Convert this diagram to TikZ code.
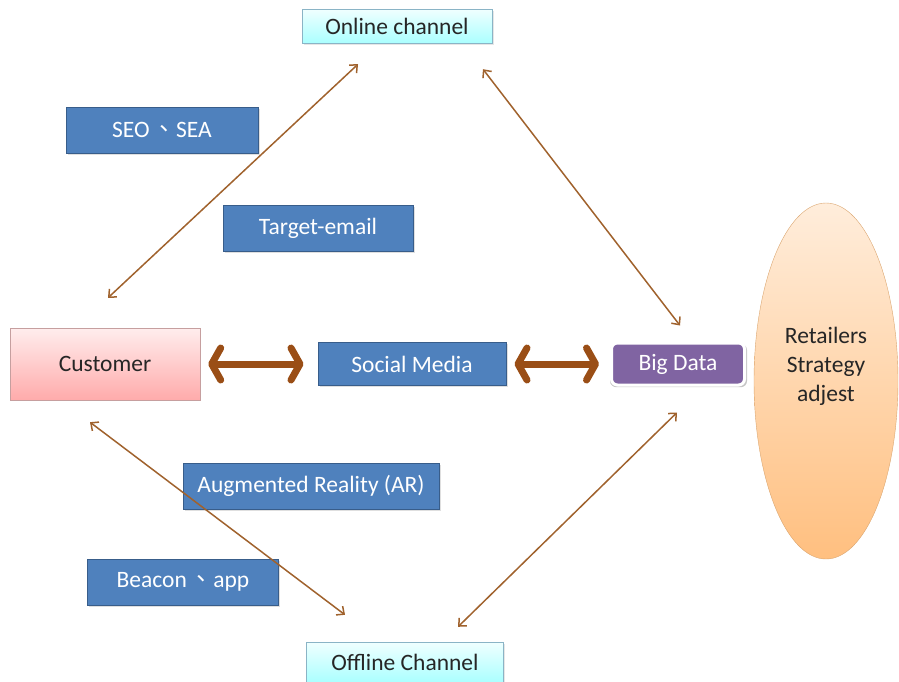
\documentclass[tikz,border=0pt]{standalone}
\usepackage{fontspec}
\setmainfont{Carlito}
\newfontfamily\cjk{Noto Sans CJK TC}
\usetikzlibrary{shapes,arrows.meta,shadows}

\definecolor{boxblue}{HTML}{4F81BD}
\definecolor{boxblueline}{HTML}{385D8A}
\definecolor{bigpurple}{HTML}{8064A2}
\definecolor{arrbrown}{HTML}{9A4E16}
\definecolor{linkbrown}{HTML}{A0622D}

\begin{document}
\begin{tikzpicture}[x=1pt,y=-1pt,
    every node/.style={font=\fontsize{23.5}{29}\selectfont,text=black!85},
    tool/.style={draw=boxblueline,fill=boxblue,text=white,line width=1pt,
      minimum height=46,drop shadow={opacity=0.25,shadow xshift=1.5pt,shadow yshift=-1.5pt}},
    channel/.style={draw=gray!60!cyan!80,top color=cyan!6,bottom color=cyan!33,
      minimum width=190,minimum height=34,drop shadow={opacity=0.2,shadow xshift=1.5pt,shadow yshift=-1.5pt}},
    link/.style={draw=linkbrown,line width=1.5pt,
      {Straight Barb[length=6pt,width=11pt]}-{Straight Barb[length=6pt,width=11pt]}},
    fatlink/.style={draw=arrbrown,line width=7pt,
      {Straight Barb[length=9pt,width=32pt,round]}-{Straight Barb[length=9pt,width=32pt,round]}}]
    \useasboundingbox(0,0)rectangle(899,681);
    % the customer, the data hub and the two channels
    \node[draw=red!25!gray!60,top color=red!7,bottom color=red!33,minimum width=190,minimum height=72]
      (cust)at(105,364){Customer};
    \node[channel](online)at(397,26){Online channel};
    \node[channel,minimum width=197,minimum height=40](offline)at(405,662){Offline Channel};
    \node[draw=white,line width=3pt,fill=bigpurple,text=white,rounded corners=6,
      minimum width=133,minimum height=42,
      drop shadow={opacity=0.45,shadow xshift=0.5pt,shadow yshift=-1.5pt,shadow scale=1.03}]
      (bigdata)at(678,364){Big Data};
    \node[ellipse,draw=orange!60!gray!70,top color=orange!14,bottom color=orange!50,
      minimum width=144,minimum height=356](retail)at(826,381){};
    \node[align=center](retailtxt)at([yshift=15]retail.center){Retailers\\Strategy\\adjest};
    % the tools along each path
    \node[tool,minimum width=192](seo)at(162,130){SEO\kern3pt{\cjk 、}SEA};
    \node[tool,minimum width=190](email)at(318,228){Target-email};
    \node[tool,minimum width=188,minimum height=43](social)at(412,364){Social Media};
    \node[tool,minimum width=256](ar)at(311,486){Augmented Reality (AR)};
    \node[tool,minimum width=191](beacon)at(183,582){Beacon\kern3pt{\cjk 、}app};
    % connectors
    \draw[link]([shift={(3,-30)}]cust.north)--([shift={(-39,21)}]online.south);
    \draw[link]([shift={(86,26)}]online.south)--([shift={(2,-16)}]bigdata.north);
    \draw[link]([shift={(-15,22)}]cust.south)--([shift={(-60,-27)}]offline.north);
    \draw[link]([shift={(53,-15)}]offline.north)--([shift={(-1,26)}]bigdata.south);
    \draw[fatlink]([xshift=8]cust.east)--([xshift=-14]social.west);
    \draw[fatlink]([xshift=8]social.east)--([xshift=-11]bigdata.west);
\end{tikzpicture}
\end{document}
